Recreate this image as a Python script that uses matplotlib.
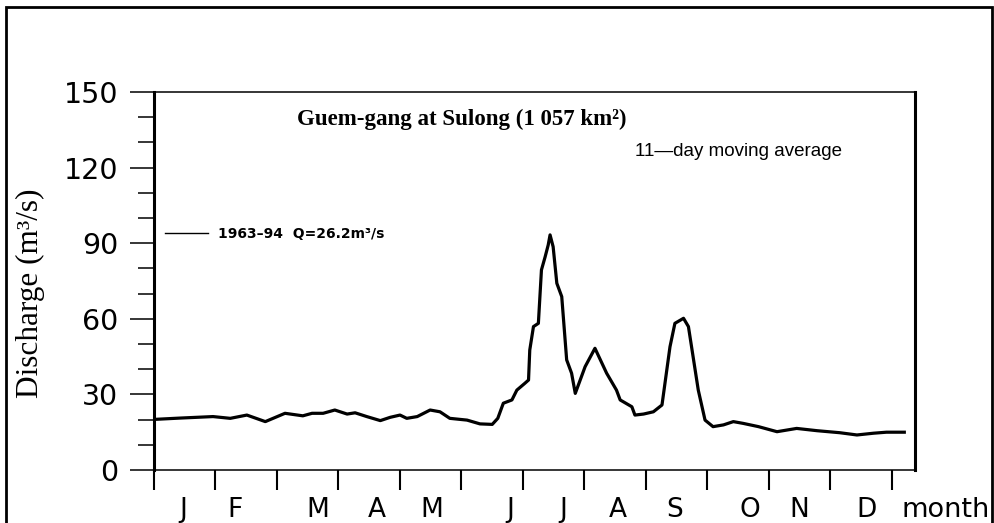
import matplotlib
matplotlib.use("Agg")
import matplotlib.pyplot as plt
from matplotlib.patches import Rectangle

# 11-day moving average discharge (x in months)
months = [0.02, 0.42, 0.96, 1.24, 1.51, 1.81, 2.13, 2.42, 2.57, 2.75, 2.94,
          3.14, 3.27, 3.46, 3.68, 3.84, 4.00, 4.11, 4.28, 4.49, 4.65, 4.81,
          5.09, 5.30, 5.50, 5.59, 5.68, 5.82, 5.90, 6.03, 6.09, 6.11, 6.17,
          6.25, 6.30, 6.36, 6.41, 6.44, 6.49, 6.55, 6.63, 6.71, 6.79, 6.85,
          7.01, 7.17, 7.36, 7.52, 7.58, 7.77, 7.82, 7.96, 8.12, 8.26, 8.39,
          8.47, 8.61, 8.69, 8.85, 8.96, 9.09, 9.26, 9.42, 9.58, 9.83, 10.13,
          10.45, 10.78, 11.15, 11.43, 11.70, 11.91, 12.20]
discharge = [20.1, 20.6, 21.2, 20.5, 21.8, 19.2, 22.5, 21.5, 22.5, 22.5, 23.8,
             22.2, 22.7, 21.2, 19.6, 20.9, 21.8, 20.5, 21.2, 23.8, 23.1, 20.5,
             19.8, 18.3, 18.1, 20.5, 26.5, 27.8, 31.7, 34.4, 35.7, 47.6, 56.9,
             58.2, 79.4, 84.6, 89.3, 93.3, 88.6, 74.1, 68.8, 43.7, 38.4, 30.4,
             41.0, 48.3, 38.4, 31.7, 27.8, 25.1, 21.8, 22.2, 23.1, 25.8, 48.9,
             58.2, 60.2, 56.9, 31.7, 19.8, 17.2, 17.9, 19.2, 18.5, 17.2, 15.2,
             16.5, 15.6, 14.8, 13.9, 14.6, 15.0, 15.0]

month_labels = ["J", "F", "M", "A", "M", "J", "J", "A", "S", "O", "N", "D"]
label_pos = [0.47, 1.32, 2.67, 3.63, 4.52, 5.79, 6.65, 7.54, 8.47, 9.69, 10.5, 11.59]
y_major = [0, 30, 60, 90, 120, 150]
y_minor = [10, 20, 40, 50, 70, 80, 100, 110, 130, 140]

fig = plt.figure(figsize=(9.94, 5.23), dpi=100)
ax = fig.add_axes([154 / 994, 1 - 470 / 523, (915 - 154) / 994, (470 - 92) / 523])

line, = ax.plot(months, discharge, color="black", lw=2.3,
                label="1963\u201394  Q=26.2m\u00b3/s")

ax.set_xlim(0, 12.374)
ax.set_ylim(0, 150)

# axis frame
for side in ["left", "right"]:
    ax.spines[side].set_linewidth(2.2)
for side in ["top", "bottom"]:
    ax.spines[side].set_linewidth(1.1)

# y ticks
ax.set_yticks(y_major)
ax.set_yticks(y_minor, minor=True)
ax.tick_params(axis="y", which="major", direction="out", length=17.3, width=1.1,
               pad=8.6, labelsize=20.5)
ax.tick_params(axis="y", which="minor", direction="out", length=11.5, width=1.1)

# x ticks: month boundaries, labels between
ax.set_xticks(range(13))
ax.set_xticklabels([])
ax.set_xticks(label_pos, minor=True)
ax.set_xticklabels(month_labels, minor=True)
ax.tick_params(axis="x", which="major", direction="out", length=14.5, width=1.5)
ax.tick_params(axis="x", which="minor", length=0, pad=19.5, labelsize=19)
ax.text(12.88, -0.0725, "month", transform=ax.get_xaxis_transform(),
        ha="center", va="top", fontsize=19.5)

# titles
ax.text((297 - 154) / 761, (470 - 125) / 378, "Guem-gang at Sulong (1 057 km\u00b2)",
        transform=ax.transAxes, family="Liberation Serif", fontweight="bold",
        fontsize=16.5, va="baseline", ha="left")
ax.text((635 - 154) / 761, (470 - 156) / 378, "11\u2014day moving average",
        transform=ax.transAxes, family="Liberation Sans", fontsize=13.5,
        va="baseline", ha="left")

# legend
leg = ax.legend(loc="center left", bbox_to_anchor=(0.0145, 0.625), frameon=False,
                borderpad=0, borderaxespad=0, handlelength=3.1, handletextpad=0.72,
                prop={"weight": "bold", "size": 10})
leg.get_lines()[0].set_linewidth(1.0)

# y label
fig.text(30 / 994, 1 - 293 / 523, "Discharge (m\u00b3/s)", rotation=90,
         ha="center", va="center", family="Liberation Serif", fontsize=22.5)

# outer frame
fig.patches.append(Rectangle((6 / 994, -0.05), (992 - 6) / 994, 1.05 - 7 / 523,
                             transform=fig.transFigure, fill=False,
                             edgecolor="black", lw=2))

fig.savefig("out.png", dpi=100)
